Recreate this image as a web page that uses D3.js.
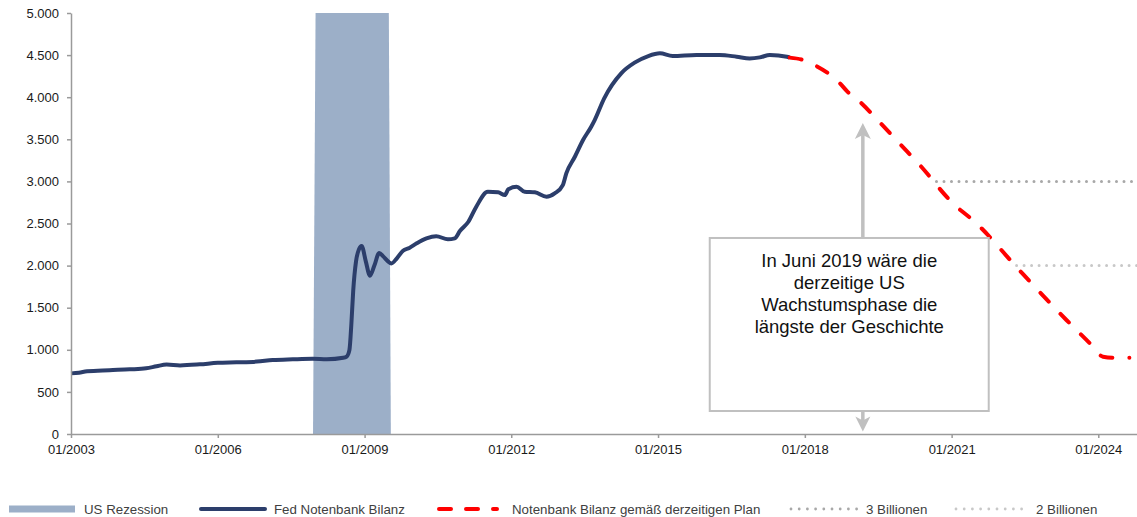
<!DOCTYPE html>
<html>
<head>
    <meta charset="utf-8">
    <title>Fed Notenbank Bilanz</title>
    <script src="https://d3js.org/d3.v7.min.js"></script>
    <style type="text/css">
        body { margin: 0; background: #fff; }
        svg { display: block; font-family: "Liberation Sans", Arial, sans-serif; }
        .axis path, .axis line { stroke: #9a9a9a; stroke-width: 1.5; }
        .axis text { fill: #1a1a1a; font-size: 13px; font-family: "Liberation Sans", Arial, sans-serif; }
        .legend text { fill: #404040; font-size: 13.3px; }
    </style>
</head>
<body>
<script type="text/javascript">
// Fed Bilanz (Mrd. USD)
let balanceDates = ["2003-01-01","2003-03-01","2003-05-01","2003-10-15","2004-03-15","2004-07-15","2004-10-01",
    "2004-12-15","2005-03-25","2005-08-20","2006-01-01","2006-05-20","2006-10-20","2007-02-15","2007-07-15",
    "2007-12-10","2008-03-25","2008-07-25","2008-08-20","2008-09-10","2008-09-24","2008-10-08","2008-10-29",
    "2008-11-19","2008-12-10","2009-01-10","2009-02-10","2009-03-15","2009-04-20","2009-05-20","2009-06-25",
    "2009-07-20","2009-08-30","2009-10-15","2009-12-01","2010-01-25","2010-04-08","2010-06-20","2010-09-15",
    "2010-11-05","2010-12-15","2011-02-15","2011-04-15","2011-07-10","2011-09-25","2011-11-15","2011-12-10",
    "2012-02-10","2012-04-10","2012-06-25","2012-09-20","2012-11-20","2013-01-20","2013-02-15","2013-04-20",
    "2013-06-20","2013-08-20","2013-09-15","2013-11-25","2014-04-01","2014-07-10","2014-10-20","2015-01-15",
    "2015-04-20","2015-10-15","2016-04-05","2016-08-10","2016-11-15","2017-01-30","2017-04-15","2017-08-20",
    "2017-09-10"];
let balanceValues = [720, 728, 745, 758, 768, 780, 805,
    825, 815, 827, 845, 851, 860, 878, 887,
    893, 887, 905, 920, 1000, 1300, 1700, 2050,
    2190, 2233, 2050, 1880, 2000, 2150, 2110, 2050,
    2025, 2087, 2177, 2210, 2265, 2324, 2350, 2312,
    2324, 2414, 2521, 2700, 2877, 2870, 2838, 2906,
    2937, 2877, 2870, 2818, 2858, 2957, 3096, 3293,
    3492, 3650, 3729, 3987, 4284, 4410, 4489, 4521,
    4489, 4501, 4501, 4481, 4461, 4473, 4501, 4481,
    4470];

// Plan
let planDates = ["2017-09-10","2017-12-20","2018-03-28","2018-06-25","2018-09-20","2018-11-15","2019-02-15",
    "2019-07-10","2019-12-08","2020-05-08","2021-01-10","2021-07-05","2022-05-20","2023-05-08","2023-10-30",
    "2024-02-05","2024-05-01","2024-08-20"];
let planValues = [4470, 4442, 4370, 4284, 4165, 4066, 3947,
    3709, 3452, 3195, 2740, 2502, 1948, 1354, 1077,
    918, 906, 906];

let recessionDates = ["2007-12-13", "2008-01-01", "2009-07-01", "2009-07-16"];
let recessionValues = [0, 5000, 5000, 0];

let level3Dates = ["2020-09-10", "2024-10-16"];
let level3Values = [3000, 3000];
let level2Dates = ["2022-05-01", "2024-10-16"];
let level2Values = [2000, 2000];

let tickYears = [2003, 2006, 2009, 2012, 2015, 2018, 2021, 2024];
let yTicks = [0, 500, 1000, 1500, 2000, 2500, 3000, 3500, 4000, 4500, 5000];

let noteLines = ["In Juni 2019 wäre die", "derzeitige US", "Wachstumsphase die", "längste der Geschichte"];

let legendLabels = ["US Rezession", "Fed Notenbank Bilanz", "Notenbank Bilanz gemäß derzeitigen Plan",
    "3 Billionen", "2 Billionen"];

function draw() {
    let width = 1137, height = 517;
    let left = 71, right = 1137, top = 13, bottom = 434;

    let parse = d3.timeParse("%Y-%m-%d");
    let pts = (ds, vs) => ds.map((d, i) => ({date: parse(d), value: vs[i]}));

    let svg = d3.select("body").append("svg")
        .attr("width", width)
        .attr("height", height);

    let x = d3.scaleTime()
        .domain([parse("2003-01-01"), parse("2024-10-16")])
        .range([left, right]);
    let y = d3.scaleLinear()
        .domain([0, 5000])
        .range([bottom, top]);

    let de = d3.formatLocale({decimal: ",", thousands: ".", grouping: [3], currency: ["", " €"]});

    let colRec = "#9cafc8", colFed = "#2c3e6b", colPlan = "#ff0000",
        col3 = "#a8a8a8", col2 = "#c8c8c8", colNote = "#c0c0c0";

    // recession band
    let area = d3.area()
        .x(d => x(d.date))
        .y0(y(0))
        .y1(d => y(d.value));
    svg.append("path")
        .attr("d", area(pts(recessionDates, recessionValues)))
        .style("fill", colRec);

    let line = d3.line()
        .x(d => x(d.date))
        .y(d => y(d.value));

    svg.append("path")
        .attr("d", line(pts(level3Dates, level3Values)))
        .style("fill", "none").style("stroke", col3)
        .style("stroke-width", 3).style("stroke-linecap", "round")
        .style("stroke-dasharray", "0 7.5");
    svg.append("path")
        .attr("d", line(pts(level2Dates, level2Values)))
        .style("fill", "none").style("stroke", col2)
        .style("stroke-width", 3).style("stroke-linecap", "round")
        .style("stroke-dasharray", "0 7.5");

    let smooth = d3.line()
        .x(d => x(d.date))
        .y(d => y(d.value))
        .curve(d3.curveMonotoneX);

    svg.append("path")
        .attr("d", smooth(pts(balanceDates, balanceValues)))
        .style("fill", "none").style("stroke", colFed)
        .style("stroke-width", 4).style("stroke-linejoin", "round");

    svg.append("path")
        .attr("d", smooth(pts(planDates, planValues)))
        .style("fill", "none").style("stroke", colPlan)
        .style("stroke-width", 4).style("stroke-linecap", "round")
        .style("stroke-dasharray", "12 17");

    // axes
    svg.append("g")
        .attr("class", "axis")
        .attr("transform", "translate(" + left + ",0)")
        .call(d3.axisLeft(y).tickValues(yTicks).tickFormat(de.format(",")).tickSize(4).tickSizeOuter(0).tickPadding(8));

    svg.append("g")
        .attr("class", "axis")
        .attr("transform", "translate(0," + bottom + ")")
        .call(d3.axisBottom(x)
            .tickValues(tickYears.map(t => new Date(t, 0, 1)))
            .tickFormat(d3.timeFormat("%m/%Y"))
            .tickSize(4).tickSizeOuter(0).tickPadding(7));

    // annotation box with arrows
    let bx0 = x(parse("2016-01-22")), bx1 = x(parse("2021-10-05")),
        by0 = y(2328), by1 = y(273);
    let ax = x(parse("2019-03-10"));
    let note = svg.append("g");
    note.append("line")
        .attr("x1", ax).attr("x2", ax)
        .attr("y1", by0).attr("y2", y(3693) + 12)
        .style("stroke", colNote).style("stroke-width", 3.5);
    note.append("path")
        .attr("d", "M" + ax + "," + y(3693) + " l-8,16 l8,-4 l8,4 z")
        .style("fill", colNote);
    note.append("line")
        .attr("x1", ax).attr("x2", ax)
        .attr("y1", by1).attr("y2", y(30) - 10)
        .style("stroke", colNote).style("stroke-width", 3.5);
    note.append("path")
        .attr("d", "M" + ax + "," + y(30) + " l-7.5,-15 l7.5,4 l7.5,-4 z")
        .style("fill", colNote);
    note.append("rect")
        .attr("x", bx0).attr("y", by0)
        .attr("width", bx1 - bx0).attr("height", by1 - by0)
        .style("fill", "#fff").style("stroke", colNote).style("stroke-width", 2);
    note.selectAll("text")
        .data(noteLines)
        .join("text")
        .attr("x", (bx0 + bx1) / 2)
        .attr("y", (d, i) => by0 + 29.5 + i * 22)
        .attr("text-anchor", "middle")
        .style("font-size", "18.5px")
        .style("fill", "#111")
        .text(d => d);

    // legend
    let lg = svg.append("g").attr("class", "legend");
    let ly = 509;
    lg.append("rect").attr("x", 9).attr("y", ly - 3.5).attr("width", 66).attr("height", 7).style("fill", colRec);
    lg.append("line").attr("x1", 201).attr("x2", 265).attr("y1", ly).attr("y2", ly)
        .style("stroke", colFed).style("stroke-width", 4).style("stroke-linecap", "round");
    lg.append("line").attr("x1", 439).attr("x2", 497).attr("y1", ly).attr("y2", ly)
        .style("stroke", colPlan).style("stroke-width", 4).style("stroke-linecap", "round")
        .style("stroke-dasharray", "12 15");
    lg.append("line").attr("x1", 791).attr("x2", 857).attr("y1", ly).attr("y2", ly)
        .style("stroke", col3).style("stroke-width", 2.8).style("stroke-linecap", "round")
        .style("stroke-dasharray", "0 8.2");
    lg.append("line").attr("x1", 956).attr("x2", 1028).attr("y1", ly).attr("y2", ly)
        .style("stroke", col2).style("stroke-width", 2.8).style("stroke-linecap", "round")
        .style("stroke-dasharray", "0 8.2");
    let lx = [84, 274, 512, 866, 1036];
    lg.selectAll("text")
        .data(legendLabels)
        .join("text")
        .attr("x", (d, i) => lx[i])
        .attr("y", ly + 4.5)
        .text(d => d);
}

draw();
</script>
</body>
</html>
